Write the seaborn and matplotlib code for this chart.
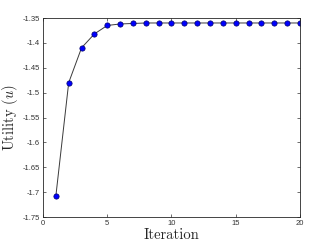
import matplotlib

matplotlib.use("Agg")
import matplotlib.pyplot as plt
import seaborn as sns

import numpy as np
import pandas as pd

iterations = list(range(1, 21))
utility = [-1.708, -1.480, -1.410, -1.382, -1.365, -1.362, -1.361, -1.360, -1.360, -1.360,
           -1.360, -1.360, -1.360, -1.360, -1.360, -1.360, -1.360, -1.360, -1.360, -1.360]
xticks = [0, 5, 10, 15, 20]
yticks = [-1.75, -1.7, -1.65, -1.6, -1.55, -1.5, -1.45, -1.4, -1.35]

sns.set_style("ticks")
plt.rcParams["font.family"] = ["Liberation Sans", "DejaVu Sans"]
plt.rcParams["mathtext.fontset"] = "cm"

data = pd.DataFrame({"iteration": iterations, "utility": utility})

fig = plt.figure(figsize=(3.32, 2.49), dpi=100)
ax = fig.add_axes([0.1295, 0.1285, 0.7741, 0.7992])

sns.lineplot(
    x="iteration",
    y="utility",
    data=data,
    ax=ax,
    color="#3a3a3a",
    linewidth=0.7,
    marker="o",
    markersize=3.8,
    markerfacecolor="#0000ff",
    markeredgecolor="#00006a",
    markeredgewidth=0.5,
)

ax.set_xlim(0, 20)
ax.set_ylim(-1.75, -1.35)
ax.set_xticks(xticks)
ax.set_yticks(yticks)
ax.set_xticklabels([f"{t:g}" for t in xticks])
ax.set_yticklabels([f"{t:g}" for t in yticks])
ax.tick_params(direction="in", length=2.5, width=0.5, labelsize=5.5, colors="#333333",
               top=True, right=True, pad=2)

for side in ["top", "right", "bottom", "left"]:
    ax.spines[side].set_visible(True)
    ax.spines[side].set_linewidth(0.6)
    ax.spines[side].set_color("#262626")

ax.set_xlabel("Iteration", family="cmr10", fontsize=10.5, labelpad=1)
ax.set_ylabel(r"Utility $(u)$", family="cmr10", fontsize=10.5, labelpad=2)

fig.savefig("out.png", dpi=100)
